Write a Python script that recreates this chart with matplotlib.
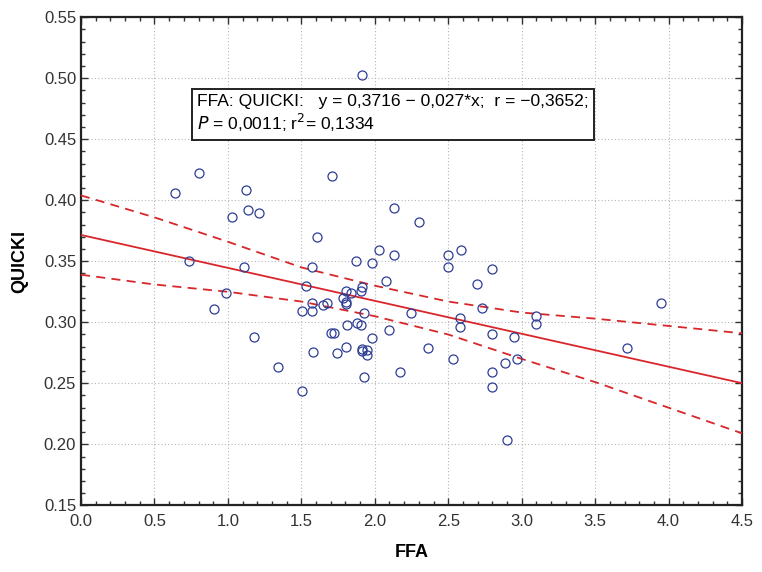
import matplotlib.pyplot as plt
from matplotlib.ticker import MultipleLocator, FormatStrFormatter

plt.rcParams['font.family'] = ['Liberation Sans', 'DejaVu Sans']

# scatter points
ffa = [1.915, 0.641, 0.802, 1.122, 1.031, 1.135, 1.215, 1.709, 1.607, 2.132,
       2.299, 0.732, 1.110, 1.573, 1.870, 1.983, 2.031, 2.132, 2.073, 0.986,
       0.904, 1.181, 1.339, 1.502, 1.534, 1.572, 1.502, 1.572, 1.647, 1.675,
       1.579, 1.704, 1.720, 1.745, 1.801, 1.835, 1.783, 1.801, 1.801, 1.903,
       1.915, 1.928, 1.813, 1.881, 1.903, 1.801, 1.983, 2.096, 1.915, 1.915,
       1.949, 1.949, 1.928, 2.169, 2.248, 2.360, 2.499, 2.590, 2.499, 2.801,
       2.694, 2.731, 2.581, 2.581, 3.098, 3.098, 2.799, 2.948, 2.534, 2.889,
       2.971, 2.799, 2.799, 2.901, 3.719, 3.948]
quicki = [0.503, 0.406, 0.4226, 0.4086, 0.386, 0.392, 0.3895, 0.420, 0.370, 0.3934,
          0.3824, 0.350, 0.345, 0.345, 0.350, 0.349, 0.359, 0.355, 0.334, 0.324,
          0.3106, 0.288, 0.263, 0.244, 0.330, 0.3157, 0.309, 0.309, 0.314, 0.316,
          0.2758, 0.291, 0.291, 0.2745, 0.3256, 0.324, 0.320, 0.317, 0.3146, 0.3256,
          0.329, 0.3076, 0.298, 0.2996, 0.298, 0.280, 0.2868, 0.2936, 0.278, 0.2766,
          0.277, 0.2729, 0.255, 0.259, 0.3075, 0.2786, 0.355, 0.359, 0.345, 0.3436,
          0.331, 0.312, 0.3034, 0.296, 0.305, 0.299, 0.290, 0.288, 0.270, 0.267,
          0.270, 0.259, 0.2466, 0.2036, 0.2786, 0.316]

# regression line and 95% band
band_x = [0.0, 0.5, 1.0, 1.5, 2.0, 2.5, 3.0, 3.5, 4.0, 4.5]
fit_y = [0.3716, 0.3581, 0.3446, 0.3311, 0.3176, 0.3041, 0.2906, 0.2771, 0.2636, 0.2501]
upper_y = [0.404, 0.386, 0.366, 0.345, 0.330, 0.317, 0.308, 0.303, 0.297, 0.291]
lower_y = [0.339, 0.331, 0.325, 0.317, 0.305, 0.290, 0.270, 0.251, 0.230, 0.209]

fig = plt.figure(figsize=(7.62, 5.72), dpi=100)
ax = fig.add_axes([0.1063, 0.1166, 0.8675, 0.8532])

red = '#d9262b'
ax.plot(band_x, fit_y, color=red, lw=1.3, zorder=3)
ax.plot(band_x, upper_y, color=red, lw=1.3, ls=(0, (5, 3.5)), zorder=3)
ax.plot(band_x, lower_y, color=red, lw=1.3, ls=(0, (5, 3.5)), zorder=3)
ax.plot(ffa, quicki, 'o', mfc='none', mec='#2e3d94', mew=0.9, ms=6.5, zorder=4)

ax.set_xlim(0, 4.5)
ax.set_ylim(0.15, 0.55)
ax.xaxis.set_major_locator(MultipleLocator(0.5))
ax.xaxis.set_minor_locator(MultipleLocator(0.1))
ax.yaxis.set_major_locator(MultipleLocator(0.05))
ax.yaxis.set_minor_locator(MultipleLocator(0.01))
ax.xaxis.set_major_formatter(FormatStrFormatter('%.1f'))
ax.yaxis.set_major_formatter(FormatStrFormatter('%.2f'))
ax.tick_params(which='both', direction='in', top=True, right=True,
               labelsize=12, colors='#333333')
ax.tick_params(which='major', length=5, width=1)
ax.tick_params(which='minor', length=3, width=1)
ax.tick_params(axis='x', pad=6)
for sp in ax.spines.values():
    sp.set_linewidth(1.6)
    sp.set_color('#222222')
ax.grid(True, which='major', ls=(0, (1, 2)), color='#b5b5b5', lw=0.8)

ax.set_xlabel('FFA', fontsize=13, fontweight='bold', labelpad=11)
ax.set_ylabel('QUICKI', fontsize=13, fontweight='bold', labelpad=11)

# stats box
txt = ('FFA: QUICKI:   y = 0,3716 \u2212 0,027*x;  r = \u22120,3652;\n'
       '$\\it{P}$ = 0,0011; r$^{2}$= 0,1334')
ax.text(0.793, 0.4707, txt, fontsize=12.6, linespacing=1.2, va='center', ha='left',
        zorder=5,
        bbox=dict(boxstyle='square,pad=0.3', fc='white', ec='#222222', lw=1.4))

fig.savefig('out.png', dpi=100)
